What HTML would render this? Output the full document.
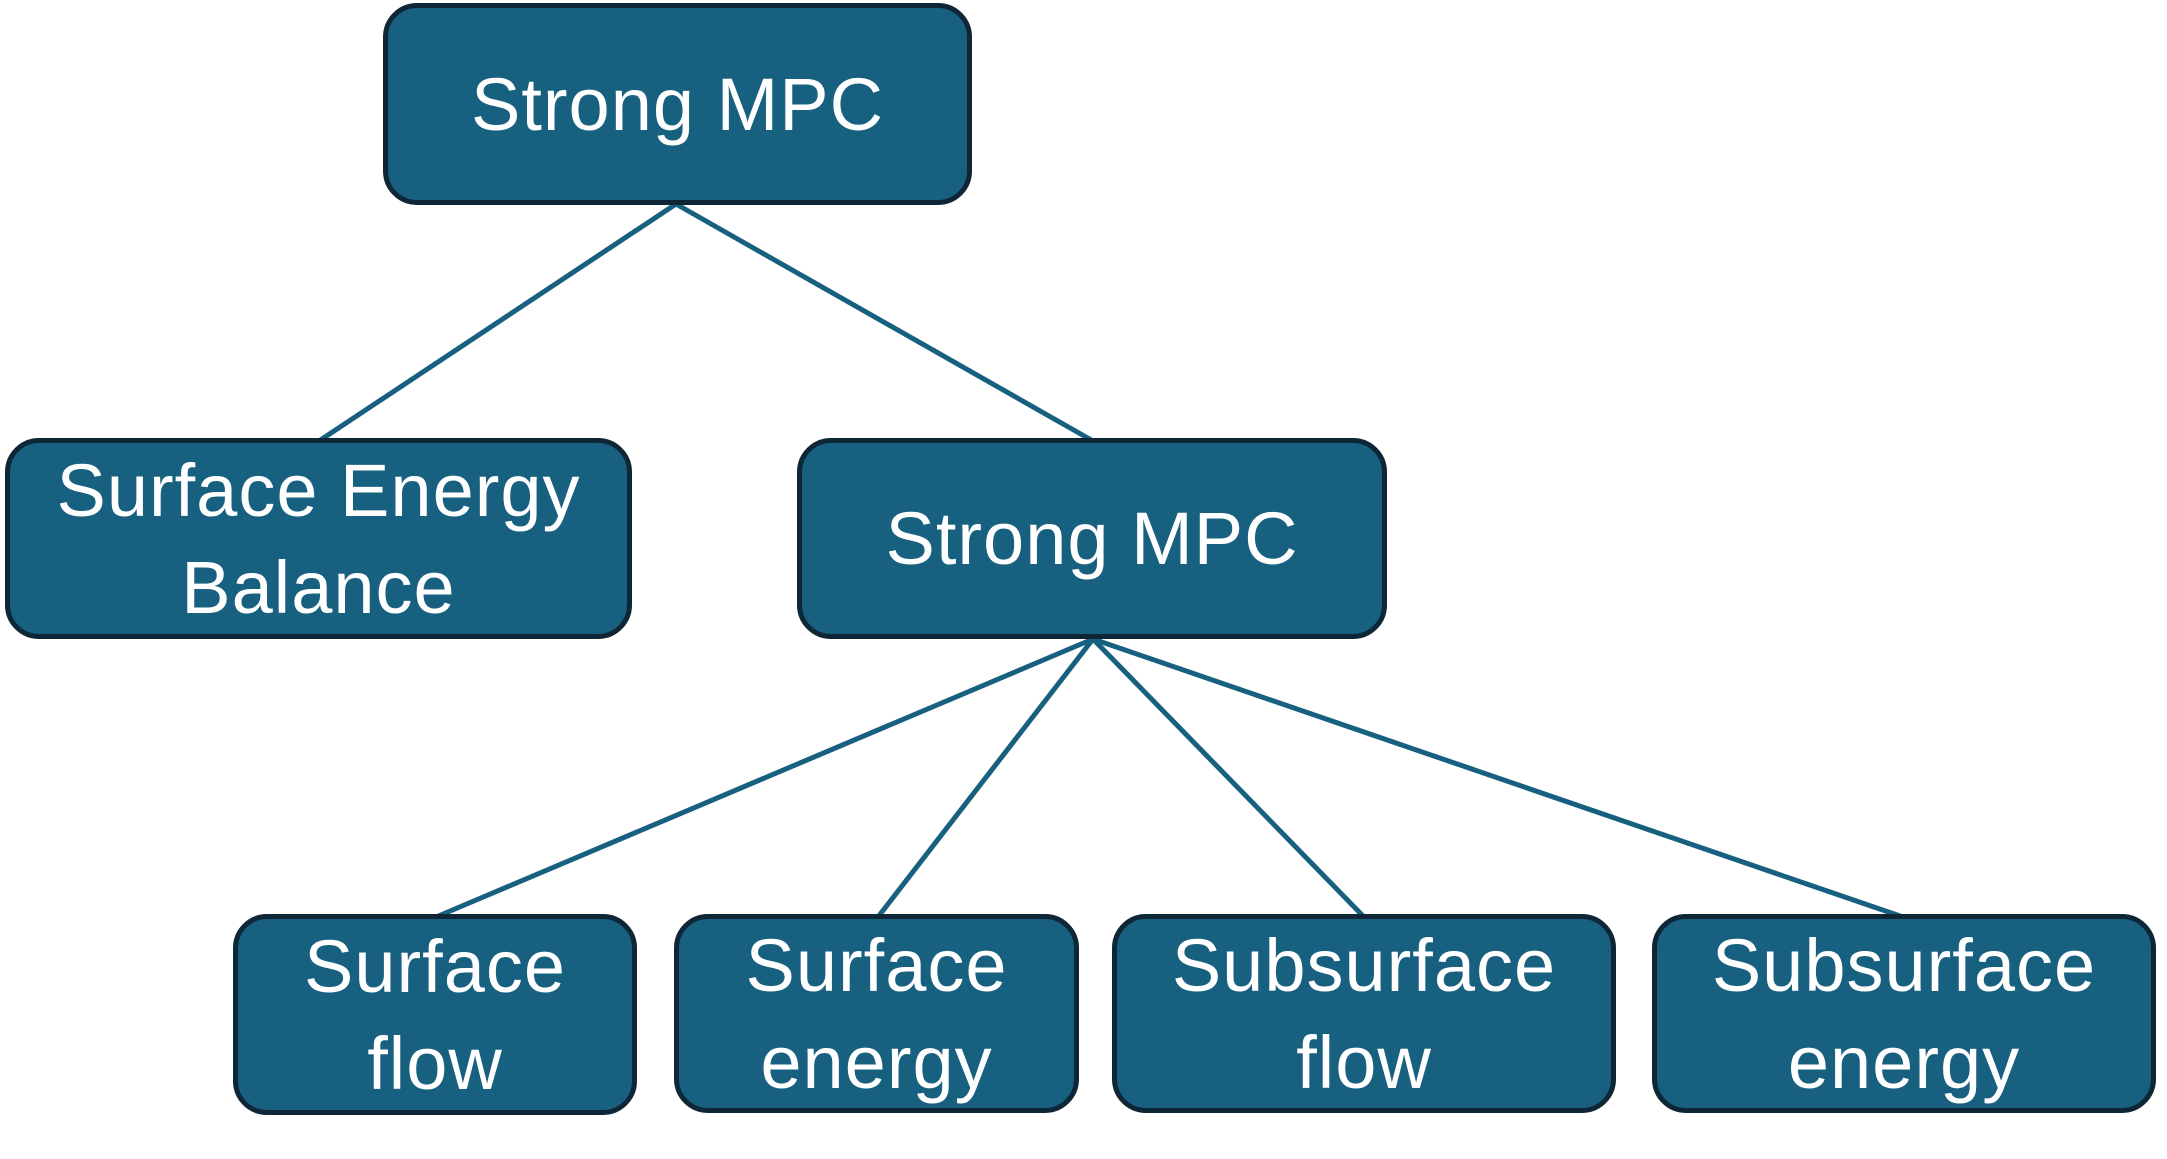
<!DOCTYPE html>
<html><head><style>
body{margin:0;width:2167px;height:1159px;background:#fff;position:relative;overflow:hidden;font-family:"Liberation Sans",sans-serif;}
.b{position:absolute;box-sizing:border-box;background:#17607f;border:5px solid #0e2636;border-radius:34px;color:#fff;display:flex;align-items:center;justify-content:center;text-align:center;font-size:74px;line-height:97px;letter-spacing:1px}
svg{position:absolute;left:0;top:0}
</style></head><body>
<svg width="2167" height="1159"><g stroke="#17607f" stroke-width="5" fill="none">
<line x1="676" y1="204" x2="319" y2="441"/>
<line x1="676" y1="204" x2="1093" y2="441"/>
<line x1="1093" y1="639" x2="436" y2="917"/>
<line x1="1093" y1="639" x2="878" y2="917"/>
<line x1="1093" y1="639" x2="1364" y2="917"/>
<line x1="1093" y1="639" x2="1903" y2="917"/>
</g></svg>
<div class="b" style="left:383px;top:3px;width:589px;height:202px">Strong MPC</div>
<div class="b" style="left:5px;top:438px;width:627px;height:201px">Surface Energy<br>Balance</div>
<div class="b" style="left:797px;top:438px;width:590px;height:201px">Strong MPC</div>
<div class="b" style="left:233px;top:914px;width:404px;height:201px">Surface<br>flow</div>
<div class="b" style="left:674px;top:914px;width:405px;height:199px">Surface<br>energy</div>
<div class="b" style="left:1112px;top:914px;width:504px;height:199px">Subsurface<br>flow</div>
<div class="b" style="left:1652px;top:914px;width:504px;height:199px">Subsurface<br>energy</div>
</body></html>
